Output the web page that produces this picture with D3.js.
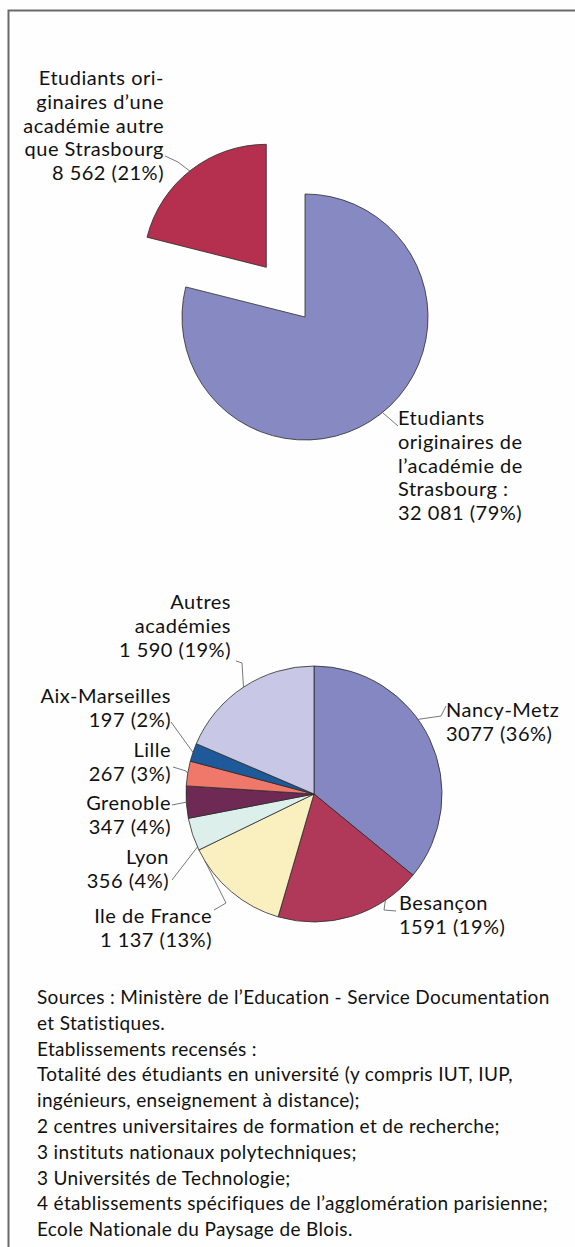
<!DOCTYPE html>
<html>
<head>
<meta charset="utf-8">
<script src="https://cdn.jsdelivr.net/npm/d3@7"></script>
<style>
  body { margin: 0; background: #fff; }
  text { font-family: Lato, "Open Sans", sans-serif; fill: #111; }
</style>
</head>
<body>
<div id="chart"></div>
<script>
// top pie: origin of the students
const originNames = ["Etudiants originaires de l'académie de Strasbourg", "Etudiants originaires d'une académie autre que Strasbourg"];
const originValues = [32081, 8562];
const originColors = ["#8689c2", "#b5304f"];
const originLabels = [
    ["Etudiants", "originaires de", "l\u2019académie de", "Strasbourg :", "32 081 (79%)"],
    ["Etudiants ori-", "ginaires d\u2019une", "académie autre", "que Strasbourg", "8 562 (21%)"]
];

// bottom pie: other academies
const academies = ["Nancy-Metz", "Besançon", "Ile de France", "Lyon", "Grenoble", "Lille", "Aix-Marseilles", "Autres académies"];
const academyValues = [3077, 1591, 1137, 356, 347, 267, 197, 1590];
const academyColors = ["#8487c2", "#b0395a", "#f9efbf", "#dcefea", "#6e2a55", "#f0786a", "#1e5a9a", "#c8c8e6"];
const academyLabels = [
    ["Nancy-Metz", "3077 (36%)"],
    ["Besançon", "1591 (19%)"],
    ["Ile de France", "1 137 (13%)"],
    ["Lyon", "356 (4%)"],
    ["Grenoble", "347 (4%)"],
    ["Lille", "267 (3%)"],
    ["Aix-Marseilles", "197 (2%)"],
    ["Autres", "académies", "1 590 (19%)"]
];

const notes = [
    "Sources : Ministère de l\u2019Education - Service Documentation",
    "et Statistiques.",
    "Etablissements recensés :",
    "Totalité des étudiants en université (y compris IUT, IUP,",
    "ingénieurs, enseignement à distance);",
    "2 centres universitaires de formation et de recherche;",
    "3 instituts nationaux polytechniques;",
    "3 Universités de Technologie;",
    "4 établissements spécifiques de l\u2019agglomération parisienne;",
    "Ecole Nationale du Paysage de Blois."
];

const width = 575, height = 1247;

const svg = d3.select("#chart").append("svg")
    .attr("width", width)
    .attr("height", height);

svg.append("rect").attr("width", width).attr("height", height).attr("fill", "#fefefe");

// frame (top and left edges only are visible)
svg.append("path")
    .attr("d", `M${width},10.5 H8.5 V${height}`)
    .attr("fill", "none")
    .attr("stroke", "#6a6a6a")
    .attr("stroke-width", 2);

const pie = d3.pie().sort(null).value(d => d);

function pointAt(cx, cy, r, a) {
    return [cx + r * Math.sin(a), cy - r * Math.cos(a)];
}

function labelBlock(g, lines, x, y, anchor, step) {
    const t = g.append("text")
        .attr("x", x)
        .attr("y", y)
        .attr("text-anchor", anchor)
        .style("font-size", "20px")
        .style("letter-spacing", "0.5px");
    lines.forEach((l, i) => {
        t.append("tspan").attr("x", x).attr("dy", i === 0 ? 0 : step).text(l);
    });
}

const leader = d3.line();

// ---- top pie ----
const topPie = { cx: 305, cy: 317, r: 123, explode: 63 };
const topArcs = pie(originValues);
const topArc = d3.arc().innerRadius(0).outerRadius(topPie.r);

const gTop = svg.append("g");
topArcs.forEach((d, i) => {
    const mid = (d.startAngle + d.endAngle) / 2;
    const off = i === 1 ? topPie.explode : 0;
    const [ox, oy] = pointAt(topPie.cx, topPie.cy, off, mid);
    gTop.append("path")
        .attr("transform", `translate(${ox},${oy})`)
        .attr("d", topArc(d))
        .attr("fill", originColors[i])
        .attr("stroke", "#2a2a2a")
        .attr("stroke-width", 0.8);
});

// label positions of the top pie
const topLabelPos = [
    { x: 398, y: 425, anchor: "start", leader: [[383, 413], [398, 426]] },
    { x: 164, y: 85, anchor: "end", leader: [[165, 156], [178, 162], [191, 172]] }
];
topLabelPos.forEach((p, i) => {
    labelBlock(gTop, originLabels[i], p.x, p.y, p.anchor, 23.8);
    gTop.append("path")
        .attr("d", leader(p.leader))
        .attr("fill", "none")
        .attr("stroke", "#555")
        .attr("stroke-width", 0.8);
});

// ---- bottom pie ----
const botPie = { cx: 314, cy: 794, r: 128 };
const botArcs = pie(academyValues);
const botArc = d3.arc().innerRadius(0).outerRadius(botPie.r);

const gBot = svg.append("g");
botArcs.forEach((d, i) => {
    gBot.append("path")
        .attr("transform", `translate(${botPie.cx},${botPie.cy})`)
        .attr("d", botArc(d))
        .attr("fill", academyColors[i])
        .attr("stroke", "#2a2a2a")
        .attr("stroke-width", 0.8);
});

const botLabelPos = [
    { x: 446, y: 717, anchor: "start", at: 0.42, elbow: [[441, 716], [446, 706]] },
    { x: 399, y: 910, anchor: "start", at: 0.25, elbow: [[384, 910], [396, 911]] },
    { x: 212, y: 923, anchor: "end", at: 0.88, elbow: [[226, 903], [214, 910]] },
    { x: 169, y: 864, anchor: "end", at: 0.1, elbow: [[172, 880]] },
    { x: 171, y: 810, anchor: "end", at: 0.5, elbow: [[172, 805]] },
    { x: 171, y: 757, anchor: "end", at: 0.5, elbow: [[186, 771], [173, 767]] },
    { x: 171, y: 703, anchor: "end", at: 0.5, elbow: [[171, 722]] },
    { x: 231, y: 609, anchor: "end", at: 0.5, elbow: [[242, 663], [236, 661]] }
];
botArcs.forEach((d, i) => {
    const p = botLabelPos[i];
    const a = d.startAngle + (d.endAngle - d.startAngle) * p.at;
    const start = pointAt(botPie.cx, botPie.cy, botPie.r, a);
    labelBlock(gBot, academyLabels[i], p.x, p.y, p.anchor, 24);
    gBot.append("path")
        .attr("d", leader([start].concat(p.elbow)))
        .attr("fill", "none")
        .attr("stroke", "#555")
        .attr("stroke-width", 0.8);
});

// ---- notes ----
const tNotes = svg.append("text")
    .attr("x", 37)
    .attr("y", 1004)
    .style("font-size", "19px")
    .style("letter-spacing", "0.35px");
notes.forEach((l, i) => {
    tNotes.append("tspan").attr("x", 37).attr("dy", i === 0 ? 0 : 25.8).text(l);
});
</script>
</body>
</html>
